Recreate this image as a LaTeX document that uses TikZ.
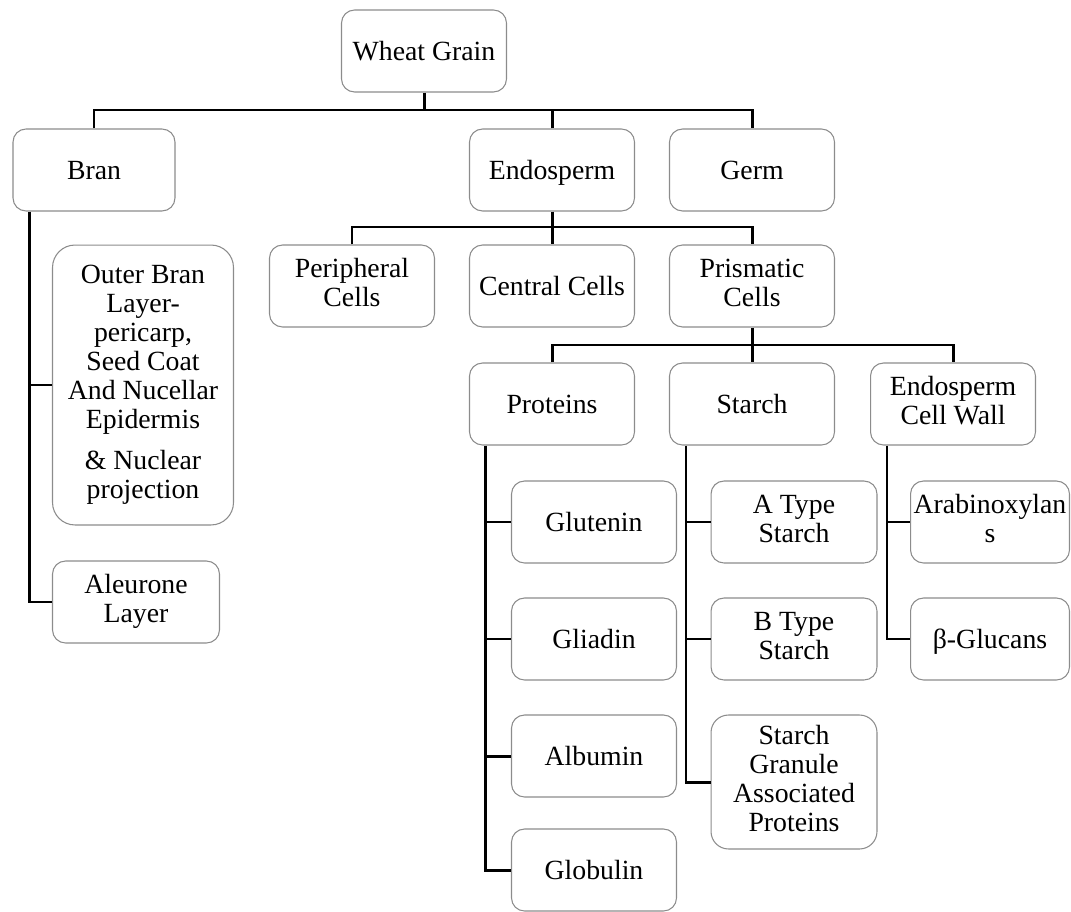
\documentclass[tikz,border=0pt]{standalone}
\usepackage{fontspec}
\setmainfont{Liberation Serif}
\definecolor{bordgray}{HTML}{8C8C8C}
\newcommand\boxstrut{\rule[-0.24em]{0pt}{1.14em}}

\begin{document}
\begin{tikzpicture}[
    x=0.02cm, y=-0.02cm,
    box/.style={
        rectangle, rounded corners=0.26cm,
        draw=bordgray, line width=0.6pt, fill=white,
        align=center, inner sep=1pt,
        minimum width=3.3cm, minimum height=1.64cm,
        font=\fontsize{15.8}{16.5}\selectfont,
        execute at begin node=\boxstrut, execute at end node=\boxstrut,
    },
    tallbox/.style={box, rounded corners=0.45cm},
    conn/.style={line width=1.7pt, draw=black},
]

% canvas, same size as the reference
\useasboundingbox (0,0) rectangle (1071,912);

\def\inset{0.34cm}

% Top: Wheat Grain
\node[box] (wheat) at (424,51) {Wheat Grain};

% First level
\node[box, minimum width=3.24cm] (bran) at (94,170) {Bran};
\node[box] (endo) at (552,170) {Endosperm};
\node[box] (germ) at (752,170) {Germ};

% Bran parts, hanging off the left trunk
\node[tallbox, minimum width=3.62cm, minimum height=5.6cm] (outer) at (143,385)
    {Outer Bran\\Layer-\\pericarp,\\Seed Coat\\And Nucellar\\Epidermis\\[7pt]\& Nuclear\\projection};
\node[box, minimum width=3.34cm] (aleurone) at (136,602) {Aleurone\\Layer};

% Endosperm cells
\node[box] (periph) at (352,286) {Peripheral\\Cells};
\node[box] (central) at (552,286) {Central Cells};
\node[box] (prism) at (752,286) {Prismatic\\Cells};

% Prismatic cell contents
\node[box] (proteins) at (552,404) {Proteins};
\node[box] (starch) at (752,404) {Starch};
\node[box] (wall) at (953,404) {Endosperm\\Cell Wall};

% Proteins column
\node[box, minimum width=3.3cm] (glutenin) at (594,522) {Glutenin};
\node[box, minimum width=3.3cm] (gliadin) at (594,639) {Gliadin};
\node[box, minimum width=3.3cm] (albumin) at (594,756) {Albumin};
\node[box, minimum width=3.3cm] (globulin) at (594,870) {Globulin};

% Starch column
\node[box, minimum width=3.32cm] (atype) at (794,522) {A Type\\Starch};
\node[box, minimum width=3.32cm] (btype) at (794,639) {B Type\\Starch};
\node[tallbox, minimum width=3.32cm, minimum height=2.68cm, rounded corners=0.35cm] (sgap) at (794,782)
    {Starch\\Granule\\Associated\\Proteins};

% Cell wall column
\node[box, minimum width=3.18cm] (arabino) at (990,522) {Arabinoxylan\\s};
\node[box, minimum width=3.18cm] (glucans) at (990,639) {β-Glucans};

% Bus levels
\coordinate (bus1) at (0,110);
\coordinate (bus2) at (0,227);
\coordinate (bus3) at (0,345);

% Tree connectors
\draw[conn] (wheat.south) -- (wheat.south |- bus1);
\draw[conn] (bran.north) |- (germ.north |- bus1) -- (germ.north);
\draw[conn] (endo.north) -- (endo.north |- bus1);

\draw[conn] (periph.north) |- (prism.north |- bus2) -- (prism.north);
\draw[conn] (endo.south) -- (central.north);

\draw[conn] (proteins.north) |- (wall.north |- bus3) -- (wall.north);
\draw[conn] (prism.south) -- (starch.north);

% Side trunks
\coordinate (brantrunk) at ([xshift=\inset]bran.south west);
\draw[conn] (brantrunk) |- (aleurone.west);
\draw[conn] (brantrunk |- outer.west) -- (outer.west);

\coordinate (protrunk) at ([xshift=\inset]proteins.south west);
\draw[conn] (protrunk) |- (globulin.west);
\draw[conn] (protrunk |- glutenin.west) -- (glutenin.west);
\draw[conn] (protrunk |- gliadin.west) -- (gliadin.west);
\draw[conn] (protrunk |- albumin.west) -- (albumin.west);

\coordinate (startrunk) at ([xshift=\inset]starch.south west);
\draw[conn] (startrunk) |- (sgap.west);
\draw[conn] (startrunk |- atype.west) -- (atype.west);
\draw[conn] (startrunk |- btype.west) -- (btype.west);

\coordinate (walltrunk) at ([xshift=\inset]wall.south west);
\draw[conn] (walltrunk) |- (glucans.west);
\draw[conn] (walltrunk |- arabino.west) -- (arabino.west);

\end{tikzpicture}
\end{document}
